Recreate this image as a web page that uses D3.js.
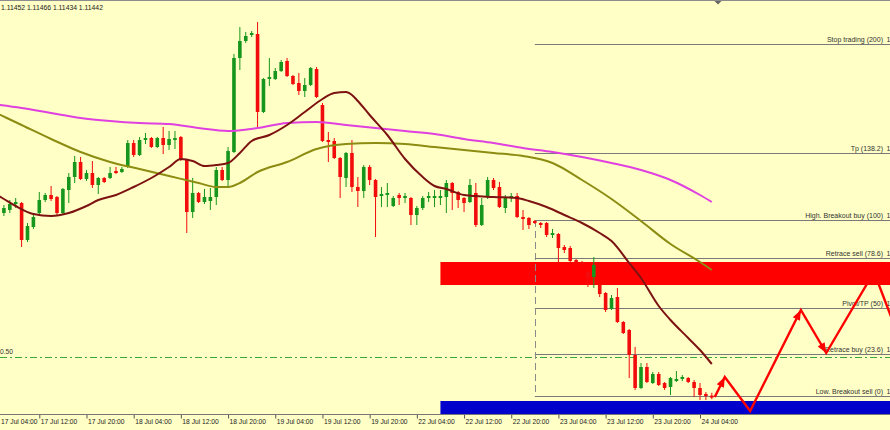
<!DOCTYPE html>
<html><head><meta charset="utf-8">
<script src="https://cdn.jsdelivr.net/npm/d3@7"></script>
<style>html,body{margin:0;padding:0;background:#FFFFC6;}svg{display:block;font-family:"Liberation Sans",Arial,sans-serif;}</style>
</head><body><svg id="c" width="890" height="430"></svg>
<script>
// ---------- DATA ----------
const headerText = "1.11452 1.11466 1.11434 1.11442";
const tickBars = [0,8,16,24,32,40,48,56,64,72,80,88,96,104,112,120];
const tickLabels = ["17 Jul 04:00","17 Jul 12:00","17 Jul 20:00","18 Jul 04:00","18 Jul 12:00","18 Jul 20:00","19 Jul 04:00","19 Jul 12:00","19 Jul 20:00","22 Jul 04:00","22 Jul 12:00","22 Jul 20:00","23 Jul 04:00","23 Jul 12:00","23 Jul 20:00","24 Jul 04:00"];
const firstBar = 2; // H1 bars counted from 17 Jul 04:00
const opens = [1.12365,1.12380,1.12410,1.12415,1.12230,1.12295,1.12365,1.12430,1.12455,1.12445,1.12365,1.12480,1.12545,1.12620,1.12535,1.12565,1.12505,1.12540,1.12540,1.12575,1.12570,1.12595,1.12715,1.12655,1.12730,1.12740,1.12695,1.12740,1.12705,1.12730,1.12745,1.12630,1.12370,1.12465,1.12420,1.12425,1.12445,1.12580,1.12530,1.12670,1.13140,1.13225,1.13255,1.13260,1.12870,1.13035,1.13035,1.13075,1.13125,1.13050,1.13015,1.12975,1.13005,1.13085,1.12905,1.12730,1.12725,1.12640,1.12540,1.12665,1.12495,1.12475,1.12595,1.12530,1.12450,1.12455,1.12400,1.12455,1.12440,1.12440,1.12355,1.12390,1.12440,1.12440,1.12440,1.12445,1.12515,1.12470,1.12440,1.12420,1.12465,1.12305,1.12445,1.12530,1.12495,1.12390,1.12440,1.12450,1.12345,1.12340,1.12325,1.12315,1.12315,1.12255,1.12260,1.12195,1.12190,1.12130,1.12120,1.12070,1.12045,1.12005,1.11965,1.11885,1.11945,1.11820,1.11780,1.11655,1.11490,1.11595,1.11515,1.11560,1.11515,1.11495,1.11525,1.11535,1.11540,1.11520,1.11490,1.11460,1.11452];
const highs = [1.12405,1.12430,1.12440,1.12420,1.12315,1.12365,1.12470,1.12465,1.12500,1.12450,1.12490,1.12565,1.12650,1.12645,1.12580,1.12625,1.12545,1.12545,1.12595,1.12595,1.12595,1.12730,1.12730,1.12745,1.12765,1.12745,1.12745,1.12795,1.12775,1.12775,1.12750,1.12635,1.12540,1.12470,1.12485,1.12490,1.12595,1.12595,1.12695,1.13160,1.13295,1.13270,1.13275,1.13320,1.13040,1.13140,1.13090,1.13130,1.13140,1.13055,1.13065,1.13040,1.13095,1.13095,1.12915,1.12770,1.12740,1.12645,1.12670,1.12730,1.12545,1.12605,1.12605,1.12535,1.12495,1.12515,1.12450,1.12465,1.12465,1.12445,1.12400,1.12450,1.12470,1.12480,1.12480,1.12530,1.12520,1.12475,1.12445,1.12535,1.12515,1.12440,1.12545,1.12540,1.12520,1.12455,1.12465,1.12465,1.12380,1.12345,1.12330,1.12320,1.12320,1.12285,1.12265,1.12205,1.12200,1.12135,1.12125,1.12080,1.12145,1.12015,1.11970,1.11955,1.11990,1.11825,1.11785,1.11695,1.11615,1.11615,1.11570,1.11570,1.11520,1.11545,1.11575,1.11555,1.11545,1.11530,1.11515,1.11470,1.11466];
const lows = [1.12350,1.12365,1.12390,1.12195,1.12220,1.12285,1.12360,1.12420,1.12425,1.12355,1.12355,1.12415,1.12515,1.12530,1.12525,1.12490,1.12460,1.12515,1.12535,1.12560,1.12565,1.12590,1.12645,1.12650,1.12710,1.12690,1.12690,1.12660,1.12680,1.12685,1.12625,1.12265,1.12340,1.12415,1.12410,1.12380,1.12405,1.12525,1.12490,1.12665,1.13080,1.13215,1.13245,1.12795,1.12865,1.13000,1.13030,1.13070,1.13045,1.13005,1.12955,1.12945,1.13000,1.12940,1.12720,1.12620,1.12635,1.12440,1.12495,1.12470,1.12395,1.12440,1.12505,1.12245,1.12395,1.12395,1.12395,1.12405,1.12415,1.12305,1.12305,1.12380,1.12420,1.12395,1.12405,1.12365,1.12380,1.12390,1.12370,1.12415,1.12295,1.12300,1.12435,1.12480,1.12390,1.12365,1.12420,1.12340,1.12280,1.12285,1.12310,1.12290,1.12245,1.12240,1.12120,1.12165,1.12120,1.12115,1.12100,1.11995,1.11990,1.11945,1.11870,1.11880,1.11815,1.11760,1.11540,1.11480,1.11485,1.11515,1.11510,1.11500,1.11480,1.11455,1.11520,1.11525,1.11515,1.11445,1.11430,1.11430,1.11434];
const closes = [1.12390,1.12410,1.12420,1.12230,1.12300,1.12345,1.12430,1.12455,1.12435,1.12365,1.12485,1.12545,1.12620,1.12535,1.12565,1.12505,1.12540,1.12520,1.12565,1.12565,1.12585,1.12715,1.12655,1.12730,1.12740,1.12695,1.12740,1.12705,1.12735,1.12740,1.12630,1.12370,1.12465,1.12420,1.12445,1.12445,1.12580,1.12530,1.12675,1.13140,1.13225,1.13250,1.13265,1.12870,1.13035,1.13045,1.13075,1.13120,1.13050,1.13010,1.12975,1.13005,1.13090,1.12945,1.12725,1.12720,1.12640,1.12545,1.12665,1.12495,1.12475,1.12595,1.12530,1.12445,1.12460,1.12465,1.12440,1.12440,1.12450,1.12355,1.12390,1.12440,1.12450,1.12450,1.12450,1.12515,1.12465,1.12430,1.12415,1.12505,1.12305,1.12405,1.12530,1.12490,1.12395,1.12440,1.12450,1.12345,1.12335,1.12305,1.12315,1.12305,1.12255,1.12265,1.12190,1.12180,1.12125,1.12120,1.12110,1.12040,1.12105,1.11960,1.11880,1.11940,1.11820,1.11765,1.11655,1.11490,1.11595,1.11520,1.11560,1.11505,1.11490,1.11540,1.11535,1.11545,1.11520,1.11490,1.11455,1.11450,1.11442];

// moving averages (bar, price)
const maSlowBars = [0,5,10,15,20,25,30,35,40,45,50,55,60,65,70,75,80,85,90,95,100,105,110,115,120,122];
const maSlowVals = [1.12910,1.12890,1.12865,1.12840,1.12825,1.12815,1.12810,1.12790,1.12775,1.12790,1.12815,1.12820,1.12805,1.12790,1.12775,1.12760,1.12735,1.12715,1.12690,1.12670,1.12645,1.12615,1.12580,1.12530,1.12455,1.12420];
const maMidBars = [0,5,10,15,20,25,30,35,38,40,42,45,50,55,60,65,70,75,80,85,90,95,100,105,110,115,120,122];
const maMidVals = [1.12875,1.12805,1.12735,1.12670,1.12620,1.12585,1.12550,1.12515,1.12495,1.12495,1.12515,1.12570,1.12620,1.12685,1.12710,1.12715,1.12710,1.12695,1.12680,1.12665,1.12650,1.12615,1.12530,1.12435,1.12325,1.12210,1.12120,1.12080];
const maFastBars = [0,2,4,7,10,13,16,18,21,24,27,30,32,34,36,38,40,42,44,47,50,53,56,58,60,61,62,64,67,70,73,75,77,80,85,89,91,94,97,100,103,105,108,110,113,115,118,120,122];
const maFastVals = [1.12470,1.12435,1.12400,1.12360,1.12350,1.12365,1.12400,1.12430,1.12455,1.12495,1.12540,1.12595,1.12635,1.12625,1.12600,1.12605,1.12615,1.12665,1.12725,1.12755,1.12805,1.12870,1.12935,1.12965,1.12970,1.12955,1.12925,1.12855,1.12755,1.12635,1.12545,1.12500,1.12485,1.12455,1.12445,1.12440,1.12425,1.12395,1.12355,1.12315,1.12265,1.12225,1.12115,1.12040,1.11900,1.11830,1.11740,1.11680,1.11610];

// fibonacci object
const fibHigh = 1.12330, fibLow = 1.11450, fibStartBar = 92;
const fibRatios = [200, 138.2, 100, 78.6, 50, 23.6, 0];
const fibNames = ["Stop trading (200)","Tp (138.2)","High. Breakout buy (100)","Retrace sell (78.6)","Pivot/TP (50)","Retrace buy (23.6)","Low. Breakout sell (0)"];
const fibPriceVisible = "1"; // only the leading digit of each price fits inside the cropped view

// zones & level
const redZone = {fromBar: 76, top: 1.12120, bottom: 1.12005};
const blueZone = {fromBar: 76, top: 1.11425, bottom: 1.11360};
const levelPrice = 1.11645, levelLabel = "0.50";

// projected zigzag
const zigBars = [122.5, 124.2, 128.5, 137.1, 141.4, 149.5, 152.8];
const zigVals = [1.11445, 1.11545, 1.11375, 1.11880, 1.11665, 1.12070, 1.11815];
const zigArrowAt = [1, 3, 4];

// ---------- DRAW ----------
const W = 890, H = 430, plotBottom = 414;
const x = d3.scaleLinear().domain([0, 120]).range([-7.9, 700]);
const y = d3.scaleLinear().domain([1.1343, 1.1128]).range([0, 430]);

const svg = d3.select("#c");
svg.append("rect").attr("width", W).attr("height", H).attr("fill", "#FFFFC6");
svg.append("defs").append("clipPath").attr("id", "plot")
  .append("rect").attr("x", 0).attr("y", 1).attr("width", W).attr("height", plotBottom - 1);
const g = svg.append("g").attr("clip-path", "url(#plot)");

// background zones
[[redZone, "#ff0000"], [blueZone, "#0000cd"]].forEach(([z, c]) => {
  g.append("rect").attr("x", x(z.fromBar)).attr("y", y(z.top))
    .attr("width", W - x(z.fromBar)).attr("height", y(z.bottom) - y(z.top)).attr("fill", c);
});

// green dash-dot level
g.append("line").attr("x1", 0).attr("x2", W)
  .attr("y1", Math.round(y(levelPrice)) + 0.5).attr("y2", Math.round(y(levelPrice)) + 0.5)
  .attr("stroke", "#3aaa3a").attr("stroke-width", 1).attr("stroke-dasharray", "7,3,2,3");
g.append("text").attr("x", 0).attr("y", y(levelPrice) - 3).attr("font-size", 6.7).attr("fill", "#333").text(levelLabel);

// fib lines
const fx = x(fibStartBar);
fibRatios.forEach((r, k) => {
  const p = fibLow + (fibHigh - fibLow) * r / 100;
  const yy = Math.round(y(p)) + 0.5;
  g.append("line").attr("x1", fx).attr("x2", W).attr("y1", yy).attr("y2", yy)
    .attr("stroke", "#7a7a7a").attr("stroke-width", 1);
  g.append("text").attr("x", 883).attr("y", yy - 2.5).attr("text-anchor", "end")
    .attr("font-size", 7).attr("fill", "#333").text(fibNames[k]);
  g.append("text").attr("x", 886.5).attr("y", yy - 2.5)
    .attr("font-size", 7).attr("fill", "#333").text(fibPriceVisible);
});
g.append("line").attr("x1", Math.round(fx) + 0.5).attr("x2", Math.round(fx) + 0.5)
  .attr("y1", y(fibHigh)).attr("y2", y(fibLow))
  .attr("stroke", "#8a8a8a").attr("stroke-width", 1).attr("stroke-dasharray", "7,4");

// candles
const candles = opens.map((o, k) => ({i: firstBar + k, o, h: highs[k], l: lows[k], c: closes[k]}));
const up = "#16961c", dn = "#f20c0c";
const cg = g.append("g");
cg.selectAll("line.w").data(candles).join("line").attr("class", "w")
  .attr("x1", d => x(d.i)).attr("x2", d => x(d.i))
  .attr("y1", d => y(d.h)).attr("y2", d => y(d.l))
  .attr("stroke", d => d.c >= d.o ? up : dn).attr("stroke-width", 1);
cg.selectAll("rect.b").data(candles).join("rect").attr("class", "b")
  .attr("x", d => x(d.i) - 1.8).attr("width", 3.6)
  .attr("y", d => y(Math.max(d.o, d.c)))
  .attr("height", d => Math.max(1, Math.abs(y(d.o) - y(d.c))))
  .attr("fill", d => d.c >= d.o ? up : dn);

// moving averages
const lineGen = d3.line().x(d => x(d[0])).y(d => y(d[1])).curve(d3.curveMonotoneX);
[[maSlowBars, maSlowVals, "#e040e0"], [maMidBars, maMidVals, "#8c8c12"], [maFastBars, maFastVals, "#7d1212"]]
  .forEach(([b, v, c]) => {
    g.append("path").attr("d", lineGen(b.map((bb, k) => [bb, v[k]])))
      .attr("fill", "none").attr("stroke", c).attr("stroke-width", 2);
  });

// zigzag projection
const zpts = zigBars.map((b, k) => [x(b), y(zigVals[k])]);
g.append("path").attr("d", d3.line()(zpts)).attr("fill", "none")
  .attr("stroke", "#ff0000").attr("stroke-width", 2.4).attr("stroke-linejoin", "miter");
zigArrowAt.forEach(k => {
  const p = zpts[k - 1], q = zpts[k];
  const dx = q[0] - p[0], dy = q[1] - p[1], L = Math.hypot(dx, dy), ux = dx / L, uy = dy / L;
  const len = 10, w = 4;
  const bx = q[0] - ux * len, by = q[1] - uy * len;
  g.append("path").attr("d", d3.line()([[q[0], q[1]], [bx - uy * w, by + ux * w], [bx + uy * w, by - ux * w]]) + "Z")
    .attr("fill", "#ff0000");
});

// frame
svg.append("line").attr("x1", 0).attr("x2", W).attr("y1", 0.5).attr("y2", 0.5).attr("stroke", "#8c8c8c");
svg.append("path").attr("d", "M714.5,1L721.5,1L718,4.5Z").attr("fill", "#666");
svg.append("text").attr("x", 1).attr("y", 9.5).attr("font-size", 6.8).attr("fill", "#222").text(headerText);

// time axis
const axis = d3.axisBottom(x).tickValues(tickBars).tickFormat((d, k) => tickLabels[k]).tickSize(4).tickSizeOuter(0);
const ag = svg.append("g").attr("transform", `translate(0,${plotBottom + 0.5})`).call(axis);
ag.select(".domain").remove();
ag.selectAll(".tick line").attr("stroke", "#555");
ag.selectAll(".tick text").attr("text-anchor", "start")
  .attr("x", d => Math.max(1, 0.5 - x(d)))  // keep the first label inside the view
  .attr("y", 9).attr("dy", 0)
  .attr("font-size", 6.7).attr("fill", "#222").attr("font-family", '"Liberation Sans",Arial,sans-serif');
svg.append("line").attr("x1", 0).attr("x2", W).attr("y1", plotBottom + 0.5).attr("y2", plotBottom + 0.5).attr("stroke", "#777");
</script></body></html>
